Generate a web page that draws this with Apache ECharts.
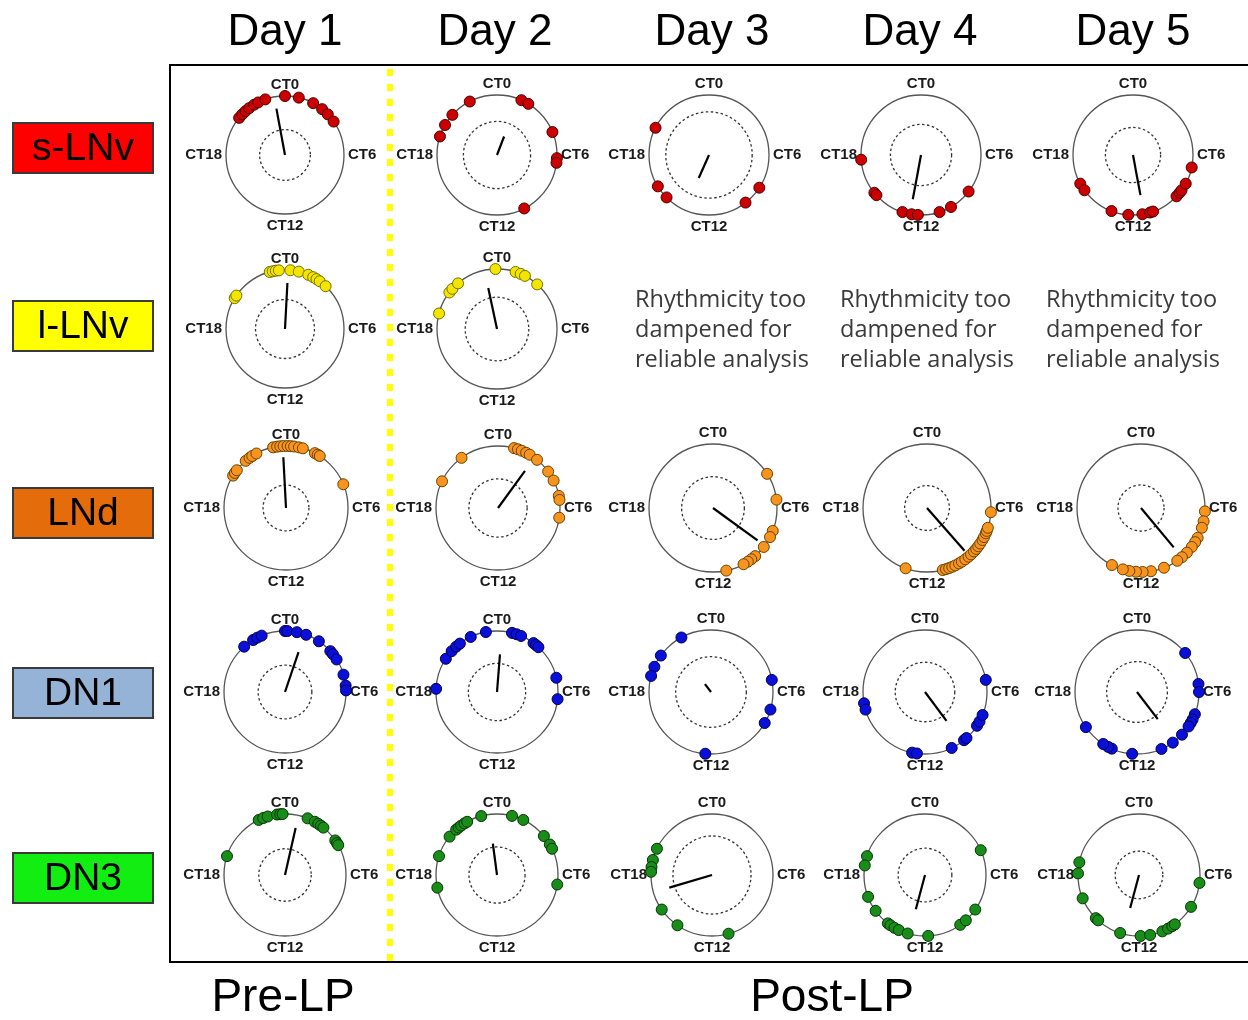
<!DOCTYPE html>
<html><head><meta charset="utf-8">
<script src="https://cdn.jsdelivr.net/npm/echarts@6/dist/echarts.min.js"></script>
<style>html,body{margin:0;padding:0;background:#fff}#c{width:1248px;height:1020px}</style>
</head><body><div id="c"></div>
<script>
// ---- data: phases (CT hours) of individual flies, per day ----
const days = ['Day 1', 'Day 2', 'Day 3', 'Day 4', 'Day 5'];
const groups = ['s-LNv', 'l-LNv', 'LNd', 'DN1', 'DN3'];
const ticks = [0, 6, 12, 18];

const sLNvPhases = [
  [20.6, 20.9, 21.2, 21.5, 21.9, 22.2, 22.7, 0.0, 0.9, 1.9, 2.6, 3.1, 3.7],
  [19.2, 20.0, 20.8, 22.2, 1.6, 2.1, 4.5, 6.2, 6.5, 10.2],
  [19.8, 15.9, 15.0, 9.5, 8.2],
  [17.7, 15.4, 15.2, 13.2, 12.6, 12.2, 10.8, 10.0, 8.5],
  [16.1, 15.6, 13.4, 12.3, 11.4, 10.9, 10.7, 8.9, 8.6, 8.4, 7.9, 6.8]
];
const sLNvMeanPhase = [23.3, 1.4, 13.6, 12.7, 11.3];
const sLNvMeanLength = [0.80, 0.33, 0.42, 0.75, 0.68];
const sLNvThreshold = [0.43, 0.56, 0.72, 0.51, 0.46];

const lLNvPhases = [
  [20.1, 20.3, 23.0, 23.2, 23.4, 23.6, 0.35, 0.9, 1.55, 1.9, 2.15, 2.4, 2.9],
  [19.0, 20.5, 20.8, 21.3, 23.9, 1.2, 1.55, 1.85, 2.8],
  null, null, null
];
const lLNvMeanPhase = [0.2, 23.2, null, null, null];
const lLNvMeanLength = [0.78, 0.70, null, null, null];
const lLNvThreshold = [0.50, 0.53, null, null, null];

const LNdPhases = [
  [20.1, 20.3, 20.5, 21.3, 21.6, 21.8, 22.1, 23.2, 23.45, 23.65, 23.85, 0.1, 0.3, 0.5, 0.8, 1.05, 1.85, 2.05, 2.2, 4.5],
  [19.7, 21.6, 1.0, 1.25, 1.5, 1.8, 2.05, 2.6, 3.6, 4.25, 5.25, 5.5, 6.6],
  [3.85, 5.5, 7.4, 7.8, 8.5, 9.25, 9.55, 9.8, 10.1, 11.2],
  [13.3, 11.05, 10.85, 10.65, 10.45, 10.25, 10.0, 9.8, 9.55, 9.3, 9.1, 8.85, 8.65, 8.45, 8.25, 8.0, 7.8, 7.55, 7.4, 7.2, 6.25],
  [6.2, 6.8, 7.2, 7.85, 8.15, 8.5, 8.95, 9.35, 9.7, 10.6, 11.4, 11.9, 12.3, 12.7, 13.1, 13.8]
];
const LNdMeanPhase = [23.8, 2.4, 8.4, 9.25, 9.35];
const LNdMeanLength = [0.82, 0.74, 0.86, 0.89, 0.80];
const LNdThreshold = [0.37, 0.47, 0.49, 0.35, 0.36];

const DN1Phases = [
  [21.2, 21.9, 22.2, 22.5, 0.0, 0.15, 0.75, 1.35, 2.25, 3.2, 3.45, 3.85, 4.9, 5.6, 5.9],
  [18.2, 20.2, 20.8, 21.2, 21.5, 22.3, 23.3, 0.95, 1.25, 1.55, 2.45, 2.65, 2.85, 5.1, 6.45],
  [22.1, 20.4, 19.6, 19.0, 5.25, 7.1, 8.0, 12.35],
  [17.3, 16.9, 12.8, 12.5, 10.3, 9.4, 9.2, 8.2, 7.9, 7.45, 5.25],
  [3.4, 5.5, 6.0, 7.4, 7.75, 8.0, 8.25, 8.9, 9.65, 10.45, 12.3, 13.6, 13.85, 14.2, 15.7]
];
const DN1MeanPhase = [1.25, 0.3, 21.5, 9.55, 9.5];
const DN1MeanLength = [0.69, 0.62, 0.16, 0.58, 0.55];
const DN1Threshold = [0.44, 0.47, 0.57, 0.48, 0.49];

const DN3Phases = [
  [19.2, 22.3, 22.6, 22.9, 23.5, 23.7, 23.85, 1.45, 1.95, 2.2, 2.4, 2.6, 3.7, 3.9, 4.05],
  [19.2, 17.2, 20.6, 21.2, 21.4, 21.6, 21.85, 22.05, 23.0, 0.95, 1.7, 3.35, 4.0, 4.3, 6.6],
  [19.7, 18.95, 18.5, 18.2, 15.7, 14.3, 10.95],
  [19.2, 18.6, 16.6, 15.6, 14.5, 14.3, 14.0, 13.7, 13.1, 11.8, 9.65, 9.2, 8.3, 4.4],
  [18.8, 18.1, 16.5, 15.0, 14.8, 13.2, 11.9, 11.3, 10.5, 10.1, 9.8, 9.6, 8.1, 6.5]
];
const DN3MeanPhase = [0.85, 23.5, 16.9, 13.0, 13.0];
const DN3MeanLength = [0.79, 0.52, 0.73, 0.58, 0.56];
const DN3Threshold = [0.43, 0.46, 0.64, 0.44, 0.39];

const dampenedNote = ['Rhythmicity too', 'dampened for', 'reliable analysis'];
const phaseLabels = ['Pre-LP', 'Post-LP'];

// ---- styling / layout ----
const rowsData = [
  {phases: sLNvPhases, mp: sLNvMeanPhase, ml: sLNvMeanLength, th: sLNvThreshold, fill: '#cc0000', border: '#4a0000', box: '#ff0000'},
  {phases: lLNvPhases, mp: lLNvMeanPhase, ml: lLNvMeanLength, th: lLNvThreshold, fill: '#f2e600', border: '#7a6e00', box: '#ffff00'},
  {phases: LNdPhases, mp: LNdMeanPhase, ml: LNdMeanLength, th: LNdThreshold, fill: '#f7941d', border: '#6e4200', box: '#e46c0a'},
  {phases: DN1Phases, mp: DN1MeanPhase, ml: DN1MeanLength, th: DN1Threshold, fill: '#0a10d8', border: '#000055', box: '#95b3d7'},
  {phases: DN3Phases, mp: DN3MeanPhase, ml: DN3MeanLength, th: DN3Threshold, fill: '#1a8c1a', border: '#003800', box: '#12ee12'}
];
const colX = [
  [285, 497, 709, 921, 1133],
  [285, 497, 709, 921, 1133],
  [286, 498, 713, 927, 1141],
  [285, 497, 711, 925, 1137],
  [285, 497, 712, 925, 1139]
];
const rowY = [155, 329, 508, 692, 875];
const boxY = [123, 301, 488, 668, 853];
const radii = [
  [59, 60, 60, 60, 60],
  [59, 60, 60, 60, 60],
  [62, 62, 64, 64, 64],
  [61, 61, 62, 62, 62],
  [61, 61, 61, 61, 61]
];
const headerX = [285, 495, 712, 920, 1133];
const FONT = '"Liberation Sans", Arial, sans-serif';

const polar = [], angleAxis = [], radiusAxis = [], series = [];
let pi = 0;
rowsData.forEach((row, r) => {
  row.phases.forEach((ph, d) => {
    if (!ph) return;
    polar.push({center: [colX[r][d], rowY[r]], radius: [0, radii[r][d]]});
    angleAxis.push({
      polarIndex: pi, type: 'value', min: 0, max: 24, interval: 6,
      startAngle: 90, clockwise: true,
      axisLine: {show: true, lineStyle: {color: '#555', width: 1.3}},
      axisTick: {show: false}, splitLine: {show: false},
      axisLabel: {
        show: true, margin: 4, fontFamily: FONT, fontSize: 15, fontWeight: 'bold', color: '#1a1a1a',
        formatter: v => (ticks.indexOf(v) >= 0 ? 'CT' + v : '')
      }
    });
    radiusAxis.push({
      polarIndex: pi, type: 'value', min: 0, max: 1,
      axisLine: {show: false}, axisLabel: {show: false}, axisTick: {show: false}, splitLine: {show: false}
    });
    series.push({
      type: 'custom', coordinateSystem: 'polar', polarIndex: pi, silent: true, z: 2,
      data: [[row.th[d], 0]],
      renderItem: (params, api) => {
        const c = api.coord([0, 0]);
        const p = api.coord([api.value(0), 0]);
        return {type: 'circle', shape: {cx: c[0], cy: c[1], r: Math.hypot(p[0] - c[0], p[1] - c[1])},
          style: {fill: 'none', stroke: '#333', lineWidth: 1.3, lineDash: [2.5, 2.5]}};
      }
    });
    series.push({
      type: 'line', coordinateSystem: 'polar', polarIndex: pi, symbol: 'none', clip: false, z: 3,
      silent: true, animation: false,
      data: [[0, row.mp[d]], [row.ml[d], row.mp[d]]],
      lineStyle: {color: '#000', width: 2.2}
    });
    series.push({
      type: 'scatter', coordinateSystem: 'polar', polarIndex: pi, clip: false, z: 4,
      symbolSize: 11, animation: false,
      data: ph.map(v => [1, v]),
      itemStyle: {color: row.fill, borderColor: row.border, borderWidth: 1, opacity: 1}
    });
    pi++;
  });
});

const graphic = [];
// frame
graphic.push({type: 'polyline', shape: {points: [[1252, 65], [170, 65], [170, 962], [1252, 962]]},
  style: {stroke: '#000', lineWidth: 2, fill: null}, z: 1});
// yellow dashed separator
graphic.push({type: 'line', shape: {x1: 390, y1: 69, x2: 390, y2: 966},
  style: {stroke: '#ffff00', lineWidth: 6, lineDash: [7, 8]}, z: 1});
// headers
days.forEach((t, i) => graphic.push({type: 'text', z: 5,
  style: {text: t, x: headerX[i], y: 33, align: 'center', verticalAlign: 'middle', fontFamily: FONT, fontSize: 44, fill: '#000'}}));
// row labels
groups.forEach((g, i) => {
  graphic.push({type: 'rect', shape: {x: 13, y: boxY[i], width: 140, height: 50},
    style: {fill: rowsData[i].box, stroke: '#3a3a3a', lineWidth: 2}, z: 5});
  graphic.push({type: 'text', z: 6,
    style: {text: g, x: 83, y: boxY[i] + 26, align: 'center', verticalAlign: 'middle', fontFamily: FONT, fontSize: 39, fill: '#000'}});
});
// dampened notes
[635, 840, 1046].forEach(x => {
  dampenedNote.forEach((line, j) => graphic.push({type: 'text', z: 5,
    style: {text: line, x: x, y: 300 + j * 30, align: 'left', verticalAlign: 'middle', fontFamily: '"Open Sans", sans-serif', fontSize: 23.5, fill: '#3a3a3a'}}));
});
// bottom labels
graphic.push({type: 'text', z: 5, style: {text: phaseLabels[0], x: 283, y: 998, align: 'center', verticalAlign: 'middle', fontFamily: FONT, fontSize: 46, fill: '#000'}});
graphic.push({type: 'text', z: 5, style: {text: phaseLabels[1], x: 832, y: 998, align: 'center', verticalAlign: 'middle', fontFamily: FONT, fontSize: 46, fill: '#000'}});

const chart = echarts.init(document.getElementById('c'), null, {renderer: 'canvas'});
chart.setOption({animation: false, backgroundColor: '#fff', polar, angleAxis, radiusAxis, series, graphic});
</script></body></html>
